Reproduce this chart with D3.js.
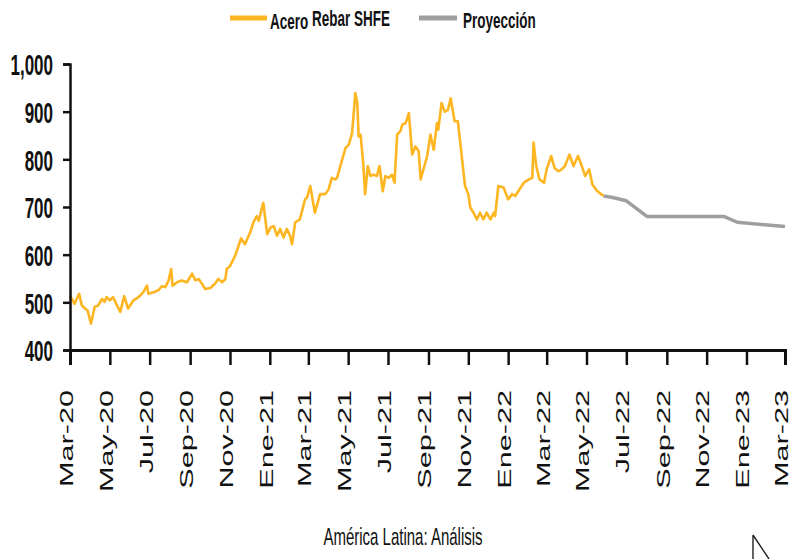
<!DOCTYPE html>
<html>
<head>
<meta charset="utf-8">
<script src="https://cdn.jsdelivr.net/npm/d3@7"></script>
<style>
  body { margin: 0; background: #fff; }
  svg { display: block; font-family: "Liberation Sans", Arial, sans-serif; }
</style>
</head>
<body>
<div class="chart"></div>
<script>
// Acero Rebar SHFE, precios observados
const rebarDates = [
  "2020-03-01","2020-03-08","2020-03-15","2020-03-19","2020-03-24","2020-03-28","2020-04-02","2020-04-08","2020-04-13","2020-04-19",
  "2020-04-23","2020-04-26","2020-05-01","2020-05-06","2020-05-10","2020-05-17","2020-05-23","2020-05-29","2020-06-06","2020-06-14",
  "2020-06-21","2020-06-27","2020-06-29","2020-07-07","2020-07-14","2020-07-20","2020-07-25","2020-07-30","2020-08-03","2020-08-05",
  "2020-08-12","2020-08-19","2020-08-27","2020-09-04","2020-09-09","2020-09-14","2020-09-19","2020-09-24","2020-10-02","2020-10-09",
  "2020-10-14","2020-10-20","2020-10-25","2020-10-27","2020-11-01","2020-11-09","2020-11-18","2020-11-24","2020-12-02","2020-12-07",
  "2020-12-12","2020-12-15","2020-12-22","2020-12-28","2021-01-02","2021-01-07","2021-01-12","2021-01-17","2021-01-22","2021-01-27",
  "2021-02-01","2021-02-04","2021-02-09","2021-02-16","2021-02-24","2021-02-27","2021-03-04","2021-03-11","2021-03-19","2021-03-27",
  "2021-04-01","2021-04-06","2021-04-11","2021-04-14","2021-04-19","2021-04-27","2021-05-02","2021-05-07","2021-05-12","2021-05-15",
  "2021-05-17","2021-05-20","2021-05-24","2021-05-27","2021-05-31","2021-06-04","2021-06-09","2021-06-14","2021-06-18","2021-06-23",
  "2021-06-27","2021-07-02","2021-07-07","2021-07-11","2021-07-15","2021-07-20","2021-07-23","2021-07-28","2021-08-02","2021-08-07",
  "2021-08-12","2021-08-17","2021-08-20","2021-08-30","2021-09-04","2021-09-09","2021-09-14","2021-09-16","2021-09-21","2021-09-26",
  "2021-10-01","2021-10-05","2021-10-11","2021-10-16","2021-10-27","2021-11-01","2021-11-04","2021-11-09","2021-11-14","2021-11-19",
  "2021-11-24","2021-11-29","2021-12-05","2021-12-10","2021-12-12","2021-12-17","2021-12-25","2022-01-01","2022-01-07","2022-01-12",
  "2022-01-17","2022-01-25","2022-02-02","2022-02-07","2022-02-09","2022-02-13","2022-02-18","2022-02-25","2022-03-01","2022-03-08",
  "2022-03-13","2022-03-19","2022-03-24","2022-03-29","2022-04-05","2022-04-11","2022-04-18","2022-04-23","2022-04-29","2022-05-05",
  "2022-05-10","2022-05-17","2022-05-27"
];
const rebarValues = [
  514,497,518,494,487,483,455,491,493,507,
  501,511,504,511,499,480,513,487,504,511,
  521,535,518,521,525,534,532,546,570,535,
  542,546,542,560,546,549,539,528,530,539,
  549,542,549,570,576,598,634,622,647,668,
  681,671,709,643,657,660,640,654,636,654,
  640,622,668,674,716,720,744,688,727,727,
  737,761,758,761,786,824,831,855,939,918,
  848,852,793,727,786,765,768,765,786,733,
  765,761,768,751,852,859,873,876,897,810,
  827,817,758,807,852,820,876,862,918,900,
  904,928,880,880,744,727,699,688,674,688,
  674,688,674,688,681,744,741,716,727,723,
  734,751,758,761,835,786,758,751,779,807,
  782,775,779,786,810,786,807,789,765,779,
  747,734,723
];

// Proyección
const projDates = ["2022-05-27","2022-06-10","2022-07-01","2022-08-02","2022-11-28","2022-12-18","2023-03-01"];
const projValues = [723, 720, 713, 680, 680, 668, 659];

const yTicks = [400, 500, 600, 700, 800, 900, 1000];
const xTickDates = ["2020-03-01","2020-05-01","2020-07-01","2020-09-01","2020-11-01","2021-01-01","2021-03-01",
  "2021-05-01","2021-07-01","2021-09-01","2021-11-01","2022-01-01","2022-03-01","2022-05-01","2022-07-01",
  "2022-09-01","2022-11-01","2023-01-01","2023-03-01"];
const xTickLabels = ["Mar-20","May-20","Jul-20","Sep-20","Nov-20","Ene-21","Mar-21","May-21","Jul-21","Sep-21",
  "Nov-21","Ene-22","Mar-22","May-22","Jul-22","Sep-22","Nov-22","Ene-23","Mar-23"];

const W = 795, H = 559;
const margin = {left: 70, right: 785, top: 64, bottom: 350};
const ink = "#111";
const orange = "#FDB521";
const grey = "#9f9f9f";
const parse = d3.timeParse("%Y-%m-%d");

const x = d3.scaleTime()
  .domain([parse("2020-03-01"), parse("2023-03-01")])
  .range([margin.left, margin.right]);
const y = d3.scaleLinear()
  .domain([400, 1000])
  .range([margin.bottom, margin.top]);

const svg = d3.select(".chart").append("svg")
  .attr("width", W)
  .attr("height", H);

svg.append("rect").attr("width", W).attr("height", H).attr("fill", "#fff");

const rebar = rebarDates.map((d, i) => ({date: parse(d), value: rebarValues[i]}));
const proj = projDates.map((d, i) => ({date: parse(d), value: projValues[i]}));

const line = d3.line().x(d => x(d.date)).y(d => y(d.value));

svg.append("path")
  .datum(proj)
  .attr("fill", "none")
  .attr("stroke", grey)
  .attr("stroke-width", 3.5)
  .attr("stroke-linejoin", "round")
  .attr("d", line);

svg.append("path")
  .datum(rebar)
  .attr("fill", "none")
  .attr("stroke", orange)
  .attr("stroke-width", 2.6)
  .attr("stroke-linejoin", "round")
  .attr("d", line);

// eje Y
const gy = svg.append("g")
  .attr("transform", "translate(" + margin.left + ",0)")
  .call(d3.axisLeft(y)
    .tickValues(yTicks)
    .tickSize(7)
    .tickPadding(10)
    .tickFormat(d3.format(",")));
gy.select(".domain").attr("stroke", ink).attr("stroke-width", 2.5);
gy.selectAll(".tick line").attr("stroke", ink).attr("stroke-width", 2.5);
gy.selectAll("text")
  .attr("fill", ink)
  .attr("font-size", 17)
  .attr("font-weight", "bold")
  .attr("font-family", "'Liberation Sans', Arial, sans-serif")
  .attr("dy", "0.38em")
  .attr("transform", "scale(1,1.7)");

// eje X
const gx = svg.append("g")
  .attr("transform", "translate(0," + margin.bottom + ")")
  .call(d3.axisBottom(x)
    .tickValues(xTickDates.map(parse))
    .tickSize(15)
    .tickFormat((d, i) => xTickLabels[i]));
gx.select(".domain").attr("stroke", ink).attr("stroke-width", 3);
gx.selectAll(".tick line").attr("stroke", ink).attr("stroke-width", 2.5);
gx.selectAll("text")
  .attr("fill", ink)
  .attr("font-size", 18)
  .attr("font-family", "'Liberation Sans', Arial, sans-serif")
  .attr("x", 0)
  .attr("y", 0)
  .attr("dy", "0.13em")
  .attr("text-anchor", "end")
  .attr("transform", "translate(0,40) rotate(-90) scale(1.7,1)");

// leyenda
const legend = svg.append("g");
legend.append("line")
  .attr("x1", 230).attr("x2", 267).attr("y1", 18).attr("y2", 18)
  .attr("stroke", orange).attr("stroke-width", 5);
const t1 = legend.append("text")
  .attr("transform", "translate(270,28.5) scale(1,1.7)")
  .attr("font-size", 13.5).attr("font-weight", "bold").attr("fill", ink);
t1.append("tspan").text("Acero");
t1.append("tspan").attr("dy", -1.3).text(" Rebar SHFE");
legend.append("line")
  .attr("x1", 419).attr("x2", 457).attr("y1", 18).attr("y2", 18)
  .attr("stroke", grey).attr("stroke-width", 5);
legend.append("text")
  .attr("transform", "translate(463,27.5) scale(1,1.7)")
  .attr("font-size", 13.5).attr("font-weight", "bold").attr("fill", ink)
  .text("Proyección");

// fuente
svg.append("text")
  .attr("transform", "translate(403,545) scale(1,1.6)")
  .attr("text-anchor", "middle")
  .attr("font-size", 15)
  .attr("fill", ink)
  .text("América Latina: Análisis");

// puntero del ratón que aparece en la captura
svg.append("path")
  .attr("d", "M753,535V559M753,535L769,559")
  .attr("fill", "none")
  .attr("stroke", "#222")
  .attr("stroke-width", 1.4);
</script>
</body>
</html>
